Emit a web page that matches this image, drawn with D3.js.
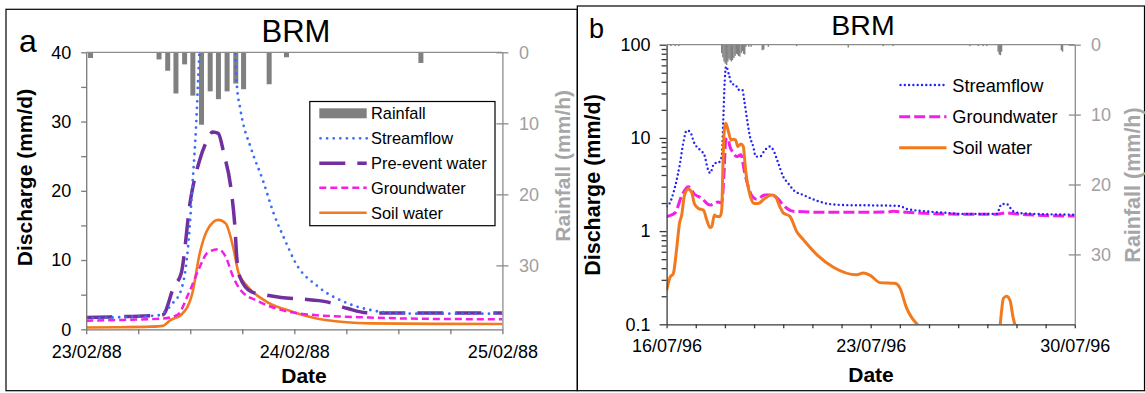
<!DOCTYPE html>
<html><head><meta charset="utf-8">
<script src="https://cdn.jsdelivr.net/npm/d3@7"></script>
<style>
html,body{margin:0;padding:0;background:#fff;}
svg{display:block;font-family:"Liberation Sans",Arial,sans-serif;}
</style></head><body>
<svg id="chart" width="1145" height="393"></svg>
<script>
// ---------------- DATA ----------------
const titleA = "BRM";
const titleB = "BRM";
const panelLabels = ["a", "b"];
const yTitle = "Discharge (mm/d)";
const rTitle = "Rainfall (mm/h)";
const xTitle = "Date";

// Panel a: x in hours after 23/02/88 00:00
const xLabelsA = ["23/02/88", "24/02/88", "25/02/88"];
const xLabelHoursA = [0, 24, 48];
const legendA = ["Rainfall", "Streamflow", "Pre-event water", "Groundwater", "Soil water"];
const rainA = [[0.5,0.8],[8.4,1.0],[9.4,2.6],[10.35,5.8],[11.35,1.7],[12.3,6.1],[13.3,10.2],[14.3,5.5],
  [15.25,6.6],[16.25,5.5],[17.25,4.4],[18.15,5.2],[21.1,4.5],[23.1,0.7],[38.6,1.5]];
const streamflowA = [[0,1.6],[4,1.75],[8.5,2.05],[8.83,2.3],[10.0,3.8],[10.96,5.7],[11.82,12.9],[12.24,20.6],
  [12.67,29.3],[13.06,40],[13.8,50],[15,56],[16.3,50],[17.19,40],[17.36,35.5],[17.79,31.7],[19.07,25.9],
  [20.35,21.6],[21.63,16.7],[22.91,12.9],[24.19,9.5],[26.75,6.15],[30.16,3.75],[32.72,2.8],[36.13,2.3],
  [40,2.25],[48,2.25]];
const preEventA = [[0,1.7],[3,1.8],[6,1.9],[8.83,2.1],[10.11,6.15],[10.96,8.1],[12.03,18.7],[13.1,24.5],
  [13.95,27.3],[14.59,28.5],[15.23,28.3],[15.87,25.4],[16.72,20.1],[17.15,14.8],[17.36,10.5],[17.7,7.6],
  [19.07,5.4],[20.78,4.95],[22.48,4.6],[25.04,4.35],[27.6,4.0],[30.16,3.0],[32.3,2.4],[36,2.35],[48,2.35]];
const groundwaterA = [[0,1.25],[4,1.35],[8.83,1.55],[10.54,2.1],[11.82,5.2],[13.1,9.0],[13.95,11.0],
  [15.23,11.55],[16.08,10.5],[16.94,7.6],[17.79,5.7],[19.92,4.0],[22.48,2.8],[25.9,2.1],[32.72,1.7],
  [40,1.5],[48,1.45]];
const soilA = [[0,0.25],[4,0.3],[7.34,0.38],[8.83,0.5],[9.68,1.3],[10.96,2.1],[12.24,5.2],[13.1,11.0],
  [13.95,14.3],[15.23,15.8],[16.08,15.3],[16.94,11.9],[17.58,8.1],[18.64,6.15],[20.78,4.0],[23.76,2.55],
  [27.6,1.35],[32.72,0.86],[40,0.78],[48,0.76]];

// Panel b: x in days after 16/07/96
const xLabelsB = ["16/07/96", "23/07/96", "30/07/96"];
const xLabelDaysB = [0, 7, 14];
const yLabelValuesB = [0.1, 1, 10, 100];
const yLabelsB = ["0.1", "1", "10", "100"];
const legendB = ["Streamflow", "Groundwater", "Soil water"];
const rainB = [[0.15,0.2],[0.3,0.2],[0.42,0.2],
  [1.89,1.2],[1.93,1.8],[1.97,2.4],[2.01,2.7],[2.06,2.9],[2.10,2.4],[2.14,2.0],[2.18,2.2],[2.22,2.4],
  [2.26,2.2],[2.31,1.9],[2.35,1.6],[2.39,1.3],[2.43,1.4],[2.47,1.6],[2.51,1.7],[2.56,1.2],[2.60,0.9],
  [2.64,1.3],[2.68,1.4],[2.72,0.3],[2.82,0.3],[2.9,0.3],[3.28,0.8],[3.33,0.7],[3.49,0.3],[4.46,0.2],
  [6.23,0.4],[7.43,0.2],[7.77,0.2],[10.4,0.2],[10.69,0.2],[10.86,0.2],[10.98,0.2],
  [11.37,1.0],[11.41,1.4],[11.45,1.5],[11.49,1.0],[13.54,0.8],[13.58,1.0]];
const streamflowB = [[0,1.85],[0.06,1.9],[0.29,3.0],[0.46,5.35],[0.57,8.8],[0.69,12.0],[0.8,11.7],
  [0.95,8.8],[1.15,7.4],[1.29,6.6],[1.43,4.5],[1.49,4.2],[1.64,5.35],[1.77,5.4],[1.89,6.3],[1.94,14.4],
  [1.98,32.8],[2.04,58.5],[2.14,47.5],[2.23,38],[2.37,37],[2.46,32.8],[2.6,32.8],[2.66,25.6],[2.75,16.6],
  [2.86,10.3],[2.97,8.1],[3.06,6.3],[3.2,6.3],[3.37,7.4],[3.55,8.1],[3.66,7.4],[3.83,5.35],[4.0,3.84],
  [4.17,3.26],[4.35,2.76],[4.69,2.44],[5.15,2.12],[5.6,1.95],[6.18,1.9],[6.98,1.89],[8.0,1.86],
  [8.23,1.73],[8.92,1.63],[9.61,1.57],[10.06,1.53],[11.32,1.53],[11.49,1.95],[11.66,1.95],[11.89,1.63],
  [12.23,1.55],[14,1.5]];
const groundwaterB = [[0,1.43],[0.06,1.45],[0.29,1.57],[0.52,2.4],[0.74,3.0],[0.95,2.5],[1.2,2.25],
  [1.49,1.9],[1.77,2.05],[1.89,2.0],[1.97,4.2],[2.03,9.5],[2.1,9.9],[2.17,8.1],[2.29,6.9],[2.4,6.3],
  [2.55,6.6],[2.66,4.5],[2.8,3.0],[2.92,2.4],[3.09,2.2],[3.37,2.44],[3.6,2.44],[3.83,2.2],[4.0,1.9],
  [4.35,1.63],[5.49,1.59],[7.55,1.6],[7.77,1.63],[8.23,1.59],[10.06,1.52],[11.32,1.52],[11.66,1.57],
  [12.0,1.53],[12.69,1.48],[14,1.45]];
const soilB = [[0,0.23],[0.12,0.32],[0.23,0.35],[0.35,0.67],[0.44,1.2],[0.52,1.5],[0.61,2.4],[0.74,2.83],
  [0.86,2.6],[0.95,1.98],[1.09,1.75],[1.26,1.68],[1.38,1.31],[1.49,1.09],[1.55,1.12],[1.64,1.49],
  [1.72,1.43],[1.83,1.43],[1.89,1.68],[1.94,6.3],[1.98,12.2],[2.03,14.4],[2.12,11.7],[2.21,9.5],
  [2.29,9.65],[2.37,9.5],[2.44,8.1],[2.55,8.6],[2.63,8.1],[2.71,4.5],[2.86,2.44],[3.01,1.98],[3.14,1.98],
  [3.37,2.25],[3.6,2.44],[3.72,2.37],[3.89,1.81],[4.0,1.57],[4.23,1.44],[4.46,0.99],[4.69,0.81],
  [5.15,0.56],[5.72,0.41],[6.52,0.34],[6.75,0.355],[6.98,0.335],[7.32,0.28],[7.83,0.275],[8.0,0.246],
  [8.23,0.15],[8.66,0.095],[8.7,null],[11.4,null],[11.43,0.09],[11.49,0.14],[11.55,0.19],[11.66,0.2],
  [11.78,0.18],[11.88,0.12],[11.98,0.09]];

// ---------------- DRAW ----------------
const svg = d3.select("#chart");
const FONT = '"Liberation Sans",Arial,sans-serif';

// panel frames
svg.append("rect").attr("x",6).attr("y",9.3).attr("width",571.3).attr("height",381.4)
  .attr("fill","none").attr("stroke","#000").attr("stroke-width",1.2);
svg.append("rect").attr("x",577.3).attr("y",6).attr("width",567.2).attr("height",384.7)
  .attr("fill","none").attr("stroke","#000").attr("stroke-width",1.2);

function styleAxis(g, color, labelColor, fs) {
  g.select(".domain").attr("stroke", color).attr("stroke-width", 1.3);
  g.selectAll(".tick line").attr("stroke", color).attr("stroke-width", 1.3);
  g.selectAll(".tick text").attr("fill", labelColor).attr("font-size", fs).attr("font-family", FONT);
}

// ===== Panel a =====
const A = {x0:86.2, x1:502.4, y0:52.3, y1:329.3};
const xA = d3.scaleLinear().domain([0,48]).range([A.x0, A.x1]);
const yA = d3.scaleLinear().domain([0,40]).range([A.y1, A.y0]);
const rA = d3.scaleLinear().domain([0,39]).range([A.y0, A.y1]);

svg.append("clipPath").attr("id","clipA").append("rect")
  .attr("x",A.x0).attr("y",A.y0).attr("width",A.x1-A.x0).attr("height",A.y1-A.y0);
const gA = svg.append("g").attr("clip-path","url(#clipA)");

gA.selectAll("rect.rain").data(rainA).enter().append("rect")
  .attr("x", d => xA(d[0]) - 2.5).attr("y", rA(0)).attr("width", 5)
  .attr("height", d => rA(d[1]) - rA(0)).attr("fill", "#808080");

const lineA = d3.line().x(d => xA(d[0])).y(d => yA(d[1])).curve(d3.curveMonotoneX);
const stylesA = {
  soil: {stroke:"#f27a1e", w:2.6, dash:null, cap:"butt"},
  ground: {stroke:"#f31ee8", w:2.5, dash:"7,4", cap:"butt"},
  pre: {stroke:"#7030a0", w:3.5, dash:"26,12", cap:"butt"},
  stream: {stroke:"#3a6df5", w:2.8, dash:"0,6.6", cap:"round"}
};
[[soilA,"soil"],[groundwaterA,"ground"],[preEventA,"pre"],[streamflowA,"stream"]].forEach(([data,k]) => {
  const s = stylesA[k];
  gA.append("path").attr("d", lineA(data)).attr("fill","none").attr("stroke", s.stroke)
    .attr("stroke-width", s.w).attr("stroke-dasharray", s.dash).attr("stroke-linecap", s.cap);
});

// top baseline of rainfall
svg.append("line").attr("x1",A.x0).attr("x2",A.x1).attr("y1",A.y0).attr("y2",A.y0)
  .attr("stroke","#8c8c8c").attr("stroke-width",1.3);

const axLA = svg.append("g").attr("transform",`translate(${A.x0},0)`)
  .call(d3.axisLeft(yA).tickValues(d3.range(0,41,5)).tickSize(5).tickSizeOuter(0).tickPadding(10)
    .tickFormat(d => d % 10 === 0 ? d : ""));
styleAxis(axLA, "#7a7a7a", "#000", "18px");

const axBA = svg.append("g").attr("transform",`translate(0,${A.y1})`)
  .call(d3.axisBottom(xA).tickValues(d3.range(0,49,6)).tickSize(5).tickSizeOuter(0).tickPadding(10.6)
    .tickFormat(d => { const i = xLabelHoursA.indexOf(d); return i >= 0 ? xLabelsA[i] : ""; }));
styleAxis(axBA, "#7a7a7a", "#000", "18px");

const axRA = svg.append("g").attr("transform",`translate(${A.x1},0)`)
  .call(d3.axisRight(rA).tickValues([0,10,20,30]).tickSize(6).tickSizeOuter(0).tickPadding(10.6));
axRA.selectAll(".tick line").attr("x1", -6);
styleAxis(axRA, "#8c8c8c", "#a0a0a0", "18px");

// texts panel a
svg.append("text").attr("x",19).attr("y",52).attr("font-size","32px").attr("font-family",FONT).text(panelLabels[0]);
svg.append("text").attr("x",296).attr("y",41.7).attr("text-anchor","middle").attr("font-size","31px")
  .attr("font-family",FONT).text(titleA);
svg.append("text").attr("transform","translate(32,177.5) rotate(-90)").attr("text-anchor","middle")
  .attr("font-size","21px").attr("font-weight","bold").attr("font-family",FONT).text(yTitle);
svg.append("text").attr("transform","translate(569.5,165.8) rotate(-90)").attr("text-anchor","middle")
  .attr("font-size","21px").attr("font-weight","bold").attr("fill","#a6a6a6").attr("font-family",FONT).text(rTitle);
svg.append("text").attr("x",304).attr("y",382.7).attr("text-anchor","middle").attr("font-size","21px")
  .attr("font-weight","bold").attr("font-family",FONT).text(xTitle);

// legend a
const legA = svg.append("g");
legA.append("rect").attr("x",309.8).attr("y",101.5).attr("width",185.2).attr("height",124.2)
  .attr("fill","#fff").attr("stroke","#000").attr("stroke-width",1.2);
const legRowsA = [113.3, 138.3, 163.3, 187.7, 212.7];
legA.append("rect").attr("x",319.3).attr("y",legRowsA[0]-5).attr("width",47.4).attr("height",10).attr("fill","#808080");
[["stream",1],["pre",2],["ground",3],["soil",4]].forEach(([k,i]) => {
  const s = stylesA[k];
  legA.append("line").attr("x1", k==="stream" ? 320.5 : 319.3).attr("x2",366.7)
    .attr("y1",legRowsA[i]).attr("y2",legRowsA[i]).attr("stroke",s.stroke).attr("stroke-width",s.w)
    .attr("stroke-dasharray", s.dash).attr("stroke-linecap", s.cap);
});
legendA.forEach((t,i) => {
  legA.append("text").attr("x",371).attr("y",legRowsA[i]).attr("dy","0.36em").attr("font-size","16.4px")
    .attr("font-family",FONT).text(t);
});

// ===== Panel b =====
const B = {x0:666.6, x1:1074.8, y0:44.7, y1:324.3};
const xB = d3.scaleLinear().domain([0,14]).range([B.x0, B.x1]);
const yB = d3.scaleLog().domain([0.1,100]).range([B.y1, B.y0]);
const rB = d3.scaleLinear().domain([0,40]).range([B.y0, B.y1]);

svg.append("clipPath").attr("id","clipB").append("rect")
  .attr("x",B.x0).attr("y",B.y0).attr("width",B.x1-B.x0).attr("height",B.y1-B.y0);
const gB = svg.append("g").attr("clip-path","url(#clipB)");

gB.selectAll("rect.rain").data(rainB).enter().append("rect")
  .attr("x", d => xB(d[0]) - 0.7).attr("y", rB(0)).attr("width", 1.4)
  .attr("height", d => rB(d[1]) - rB(0)).attr("fill", "#808080");

const lineB = d3.line().defined(d => d[1] != null).x(d => xB(d[0])).y(d => yB(d[1])).curve(d3.curveMonotoneX);
const stylesB = {
  ground: {stroke:"#f31ee8", w:3, dash:"11,4", cap:"butt"},
  stream: {stroke:"#2424f5", w:2.4, dash:"0,4.3", cap:"round"},
  soil: {stroke:"#f27a1e", w:3, dash:null, cap:"butt"}
};
[[groundwaterB,"ground"],[streamflowB,"stream"],[soilB,"soil"]].forEach(([data,k]) => {
  const s = stylesB[k];
  gB.append("path").attr("d", lineB(data)).attr("fill","none").attr("stroke", s.stroke)
    .attr("stroke-width", s.w).attr("stroke-dasharray", s.dash).attr("stroke-linecap", s.cap)
    .attr("stroke-linejoin","round");
});

svg.append("line").attr("x1",B.x0).attr("x2",B.x1).attr("y1",B.y0).attr("y2",B.y0)
  .attr("stroke","#8c8c8c").attr("stroke-width",1.3);

const isMajor = d => Math.abs(Math.log10(d) - Math.round(Math.log10(d))) < 1e-9;
const axLB = svg.append("g").attr("transform",`translate(${B.x0},0)`)
  .call(d3.axisLeft(yB).tickValues(yB.ticks()).tickSize(5).tickSizeOuter(0).tickPadding(11)
    .tickFormat(d => { if (!isMajor(d)) return ""; const i = yLabelValuesB.findIndex(v => Math.abs(v-d) < 1e-9); return yLabelsB[i]; }));
axLB.selectAll(".tick line").attr("x2", d => isMajor(d) ? -7 : -5);
styleAxis(axLB, "#3a3a3a", "#000", "18px");

const axBB = svg.append("g").attr("transform",`translate(0,${B.y1})`)
  .call(d3.axisBottom(xB).tickValues(d3.range(0,15)).tickSize(4).tickSizeOuter(0).tickPadding(10.9)
    .tickFormat(d => { const i = xLabelDaysB.indexOf(d); return i >= 0 ? xLabelsB[i] : ""; }));
styleAxis(axBB, "#3a3a3a", "#000", "18px");

const axRB = svg.append("g").attr("transform",`translate(${B.x1},0)`)
  .call(d3.axisRight(rB).tickValues([0,10,20,30]).tickSize(6).tickSizeOuter(0).tickPadding(10.2));
axRB.selectAll(".tick line").attr("x1", -6);
styleAxis(axRB, "#8c8c8c", "#a0a0a0", "18px");

svg.append("text").attr("x",589).attr("y",38).attr("font-size","27px").attr("font-family",FONT).text(panelLabels[1]);
svg.append("text").attr("x",863).attr("y",35).attr("text-anchor","middle").attr("font-size","28.5px")
  .attr("font-family",FONT).text(titleB);
svg.append("text").attr("transform","translate(600,185) rotate(-90)").attr("text-anchor","middle")
  .attr("font-size","21.5px").attr("font-weight","bold").attr("font-family",FONT).text(yTitle);
svg.append("text").attr("transform","translate(1140,185) rotate(-90)").attr("text-anchor","middle")
  .attr("font-size","21.5px").attr("font-weight","bold").attr("fill","#a6a6a6").attr("font-family",FONT).text(rTitle);
svg.append("text").attr("x",871).attr("y",381.7).attr("text-anchor","middle").attr("font-size","21px")
  .attr("font-weight","bold").attr("font-family",FONT).text(xTitle);

const legRowsB = [85, 116.7, 147.7];
[["stream",0],["ground",1],["soil",2]].forEach(([k,i]) => {
  const s = stylesB[k];
  svg.append("line").attr("x1", k==="stream" ? 900.5 : 899.2).attr("x2",946.5)
    .attr("y1",legRowsB[i]).attr("y2",legRowsB[i]).attr("stroke",s.stroke).attr("stroke-width",s.w)
    .attr("stroke-dasharray", s.dash).attr("stroke-linecap", s.cap);
});
legendB.forEach((t,i) => {
  svg.append("text").attr("x",952.3).attr("y",legRowsB[i]).attr("dy","0.36em").attr("font-size","18.2px")
    .attr("font-family",FONT).text(t);
});
</script>
</body></html>
